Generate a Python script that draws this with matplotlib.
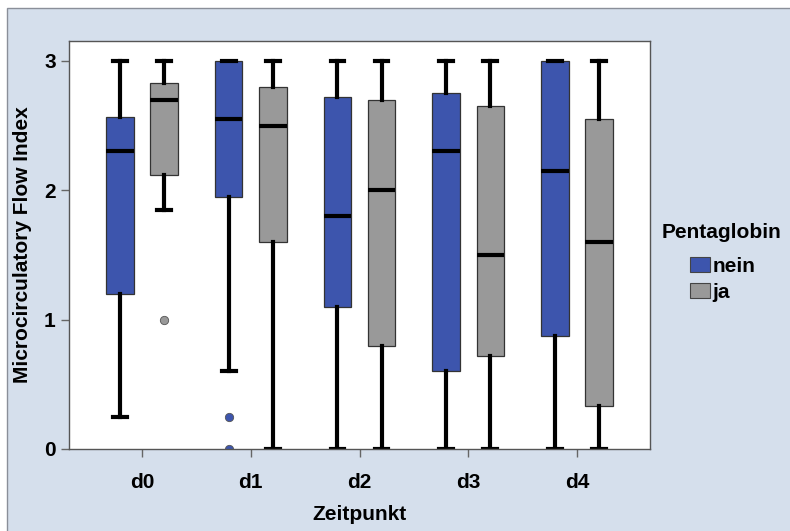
import numpy as np
import matplotlib.pyplot as plt
from matplotlib.patches import Rectangle, Patch

plt.rcParams['font.family'] = ['Liberation Sans', 'DejaVu Sans']
plt.rcParams['font.weight'] = 'bold'

# Zeitpunkte
zeitpunkte = ['d0', 'd1', 'd2', 'd3', 'd4']
gruppen = ['nein', 'ja']
farben = {'nein': '#3d55ad', 'ja': '#999999'}

# Boxplot-Kennwerte je Gruppe
nein_whislo = [0.25, 0.60, 0.0, 0.0, 0.0]
nein_q1 = [1.20, 1.95, 1.10, 0.60, 0.87]
nein_med = [2.30, 2.55, 1.80, 2.30, 2.15]
nein_q3 = [2.57, 3.00, 2.72, 2.75, 3.00]
nein_whishi = [3.0, 3.0, 3.0, 3.0, 3.0]
nein_ausreisser = [[], [0.25, 0.0], [], [], []]

ja_whislo = [1.85, 0.0, 0.0, 0.0, 0.0]
ja_q1 = [2.12, 1.60, 0.80, 0.72, 0.33]
ja_med = [2.70, 2.50, 2.00, 1.50, 1.60]
ja_q3 = [2.83, 2.80, 2.70, 2.65, 2.55]
ja_whishi = [3.0, 3.0, 3.0, 3.0, 3.0]
ja_ausreisser = [[1.0], [], [], [], []]

werte = {
    'nein': (nein_whislo, nein_q1, nein_med, nein_q3, nein_whishi, nein_ausreisser),
    'ja': (ja_whislo, ja_q1, ja_med, ja_q3, ja_whishi, ja_ausreisser),
}

bg = '#d5dfec'
fs = 15
fig = plt.figure(figsize=(7.9, 5.31), dpi=100, facecolor='white')
fig.patches.append(Rectangle((7 / 790, -0.01), 1.0, 1 - 8 / 531 + 0.01,
                             transform=fig.transFigure, facecolor=bg,
                             edgecolor='#8a8f99', linewidth=1.0, zorder=-5))

ax = fig.add_axes([69 / 790, 82 / 531, 581 / 790, 408.5 / 531])
ax.set_facecolor('white')

x = np.arange(len(zeitpunkte))
offset = 0.203
for i, g in enumerate(gruppen):
    lo, q1, med, q3, hi, fl = werte[g]
    stats = [dict(whislo=lo[k], q1=q1[k], med=med[k], q3=q3[k], whishi=hi[k],
                  fliers=fl[k]) for k in range(len(zeitpunkte))]
    pos = x + (offset if i else -offset)
    ax.bxp(stats, positions=pos, widths=0.254, capwidths=0.126,
           patch_artist=True, showfliers=True, manage_ticks=False,
           boxprops=dict(facecolor=farben[g], edgecolor='#333333', linewidth=0.9),
           medianprops=dict(color='black', linewidth=3.0, solid_capstyle='butt'),
           whiskerprops=dict(color='black', linewidth=3.0),
           capprops=dict(color='black', linewidth=3.0),
           flierprops=dict(marker='o', markersize=6, markerfacecolor=farben[g],
                           markeredgecolor='#555555', markeredgewidth=0.6))

ax.set_xlim(-0.671, 4.671)
ax.set_ylim(0, 3.158)
ax.set_xticks(x)
ax.set_xticklabels(zeitpunkte)
ax.set_yticks([0, 1, 2, 3])
ax.tick_params(axis='both', direction='out', length=6, width=1, color='#666666',
               labelsize=fs, labelcolor='black')
ax.tick_params(axis='x', pad=11)
for s in ax.spines.values():
    s.set_color('#555555')
    s.set_linewidth(1.0)

ax.set_xlabel('Zeitpunkt', fontsize=fs, fontweight='bold', labelpad=10)
ax.set_ylabel('Microcirculatory Flow Index', fontsize=fs, fontweight='bold', labelpad=9)

fig.text(662 / 790, 1 - 233 / 531, 'Pentaglobin', fontsize=fs, fontweight='bold',
         ha='left', va='center')
handles = [Patch(facecolor=farben[g], edgecolor='#444444', linewidth=0.8) for g in gruppen]
fig.legend(handles, gruppen, loc='upper left', bbox_to_anchor=(675 / 790, 1 - 242 / 531),
           frameon=False, fontsize=fs, handlelength=1.0, handleheight=0.75,
           handletextpad=0.1, labelspacing=0.35, borderpad=0.2)

fig.savefig('out.png', dpi=100, facecolor=fig.get_facecolor())
